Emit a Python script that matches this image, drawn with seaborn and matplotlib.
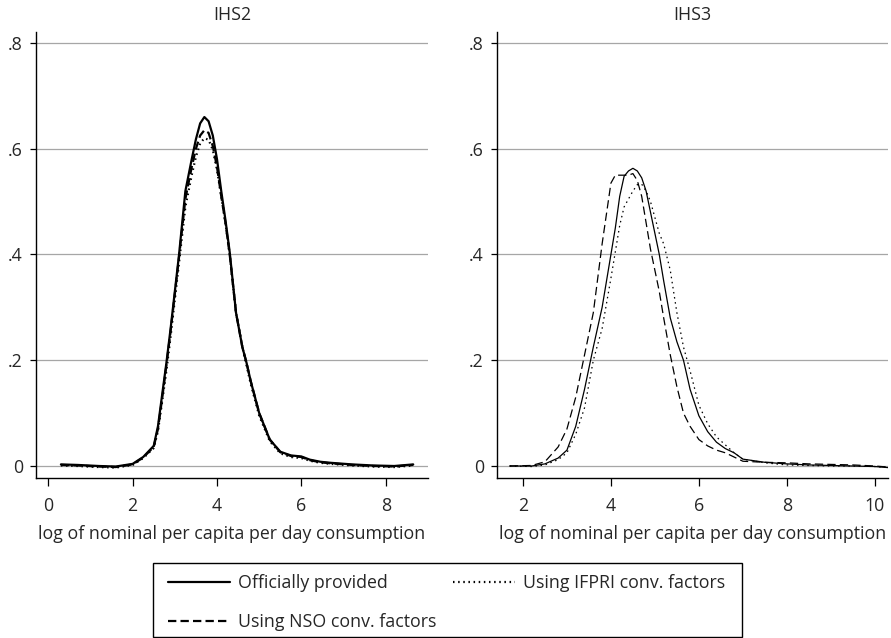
import matplotlib
matplotlib.use("Agg")
import matplotlib.pyplot as plt
from matplotlib.patches import Rectangle
import seaborn as sns
import pandas as pd

# kernel density curves
x_ihs2 = [0.3, 0.7, 1.2, 1.6, 2.0, 2.25, 2.5, 2.6, 2.7, 2.8, 2.9, 3.0, 3.1, 3.25, 3.4, 3.5,
          3.6, 3.7, 3.8, 3.9, 4.0, 4.1, 4.2, 4.3, 4.45, 4.6, 4.7, 4.8, 4.9, 5.0, 5.25, 5.5,
          5.75, 6.0, 6.2, 6.45, 6.7, 7.2, 7.7, 8.2, 8.65]
ihs2_official = [0.003, 0.002, 0.0, -0.001, 0.004, 0.017, 0.038, 0.075, 0.135, 0.195, 0.26, 0.33,
                 0.40, 0.52, 0.58, 0.618, 0.648, 0.66, 0.652, 0.625, 0.58, 0.52, 0.465, 0.405,
                 0.29, 0.225, 0.195, 0.16, 0.13, 0.10, 0.05, 0.027, 0.02, 0.018, 0.012, 0.008,
                 0.006, 0.003, 0.001, 0.0, 0.003]
ihs2_nso = [0.002, 0.001, -0.001, -0.002, 0.003, 0.016, 0.036, 0.07, 0.128, 0.19, 0.255, 0.325,
            0.395, 0.505, 0.565, 0.60, 0.625, 0.635, 0.63, 0.605, 0.565, 0.51, 0.46, 0.40,
            0.29, 0.225, 0.195, 0.16, 0.13, 0.10, 0.05, 0.026, 0.019, 0.017, 0.011, 0.007,
            0.005, 0.002, 0.0, -0.001, 0.002]
ihs2_ifpri = [0.001, 0.0, -0.002, -0.003, 0.002, 0.015, 0.034, 0.066, 0.122, 0.18, 0.245, 0.315,
              0.385, 0.49, 0.55, 0.585, 0.61, 0.62, 0.617, 0.598, 0.56, 0.51, 0.46, 0.40,
              0.29, 0.225, 0.19, 0.155, 0.125, 0.095, 0.047, 0.024, 0.017, 0.015, 0.01, 0.006,
              0.004, 0.001, -0.001, -0.002, 0.001]

x_ihs3 = [1.7, 2.2, 2.5, 2.8, 3.0, 3.2, 3.4, 3.6, 3.8, 4.0, 4.1, 4.2, 4.3, 4.4, 4.5, 4.6, 4.7,
          4.8, 4.9, 5.0, 5.1, 5.2, 5.35, 5.5, 5.65, 5.8, 6.0, 6.2, 6.4, 6.6, 6.8, 7.0, 7.5,
          8.0, 8.5, 9.0, 9.5, 10.0, 10.3]
ihs3_official = [0.0, 0.0, 0.004, 0.015, 0.03, 0.075, 0.145, 0.225, 0.30, 0.40, 0.45, 0.51,
                 0.548, 0.558, 0.563, 0.558, 0.545, 0.52, 0.48, 0.44, 0.40, 0.35, 0.28, 0.235,
                 0.20, 0.145, 0.095, 0.065, 0.045, 0.033, 0.025, 0.013, 0.007, 0.004, 0.002,
                 0.001, 0.0, -0.001, -0.003]
ihs3_nso = [0.0, 0.001, 0.008, 0.036, 0.07, 0.13, 0.21, 0.29, 0.42, 0.535, 0.55, 0.55, 0.55,
            0.55, 0.553, 0.54, 0.51, 0.46, 0.41, 0.37, 0.33, 0.28, 0.21, 0.15, 0.10, 0.075,
            0.05, 0.038, 0.03, 0.025, 0.017, 0.009, 0.007, 0.006, 0.004, 0.003, 0.002, 0.0,
            -0.002]
ihs3_ifpri = [0.0, -0.001, 0.002, 0.012, 0.025, 0.06, 0.11, 0.20, 0.26, 0.355, 0.405, 0.455,
              0.49, 0.505, 0.52, 0.532, 0.533, 0.52, 0.50, 0.47, 0.44, 0.42, 0.37, 0.29, 0.225,
              0.18, 0.115, 0.08, 0.055, 0.04, 0.025, 0.013, 0.006, 0.002, 0.001, 0.0, 0.0,
              -0.001, -0.003]

series_labels = ["Officially provided", "Using NSO conv. factors", "Using IFPRI conv. factors"]
y_ticks = [0, 0.2, 0.4, 0.6, 0.8]
y_ticklabels = ["0", ".2", ".4", ".6", ".8"]

sns.set_style("white")
plt.rcParams["font.family"] = ["Open Sans", "DejaVu Sans"]
plt.rcParams["font.size"] = 12.8
plt.rcParams["lines.scale_dashes"] = False

styles = ["-", (0, (6, 3)), (0, (1.1, 2.6))]

fig = plt.figure(figsize=(8.91, 6.38), dpi=100)
ax1 = fig.add_axes([36/891, 1-478/638, (428-36)/891, (478-32)/638])
ax2 = fig.add_axes([497/891, 1-478/638, (888-497)/891, (478-32)/638])

panels = [
    (ax1, "IHS2", x_ihs2, [ihs2_official, ihs2_nso, ihs2_ifpri], (-0.29, 9.0), [0, 2, 4, 6, 8], 1.6),
    (ax2, "IHS3", x_ihs3, [ihs3_official, ihs3_nso, ihs3_ifpri], (1.41, 10.3), [2, 4, 6, 8, 10], 0.9),
]

for ax, title, xs, ys, xlim, xticks, lw in panels:
    for vals, lab, ls in zip(ys, series_labels, styles):
        df = pd.DataFrame({"x": xs, "y": vals})
        sns.lineplot(data=df, x="x", y="y", ax=ax, color="black", linestyle=ls,
                     linewidth=lw, label=lab, legend=False)
    ax.set_xlim(*xlim)
    ax.set_ylim(-0.0227, 0.8208)
    ax.set_xticks(xticks)
    ax.set_yticks(y_ticks)
    ax.set_yticklabels(y_ticklabels)
    ax.grid(axis="y", color="#a6a6a6", linewidth=0.9)
    ax.set_axisbelow(True)
    for side in ["top", "right"]:
        ax.spines[side].set_visible(False)
    for side in ["left", "bottom"]:
        ax.spines[side].set_color("black")
        ax.spines[side].set_linewidth(1.0)
    ax.tick_params(axis="y", direction="out", length=4.5, width=0.9, color="black", pad=5, left=True)
    ax.tick_params(axis="x", direction="out", length=6, width=0.9, color="black", pad=8, bottom=True)
    ax.set_ylabel("")
    ax.set_xlabel("log of nominal per capita per day consumption", labelpad=7)
    pos = ax.get_position()
    fig.text((pos.x0 + pos.x1) / 2, 1 - 15/638, title, ha="center", va="center")

handles = ax1.get_lines()[:3]
fig.legend(handles, series_labels, ncol=2, loc="upper left",
           bbox_to_anchor=(168/891, 1 - 574/638), frameon=False, borderpad=0,
           borderaxespad=0, handlelength=3.5, handletextpad=0.45, columnspacing=0.9,
           labelspacing=1.2)
fig.patches.append(Rectangle((153/891, 1 - 637/638), (742-153)/891, (637-563)/638,
                             transform=fig.transFigure, fill=False, edgecolor="black",
                             linewidth=1.0))

fig.savefig("out.png", dpi=100)
